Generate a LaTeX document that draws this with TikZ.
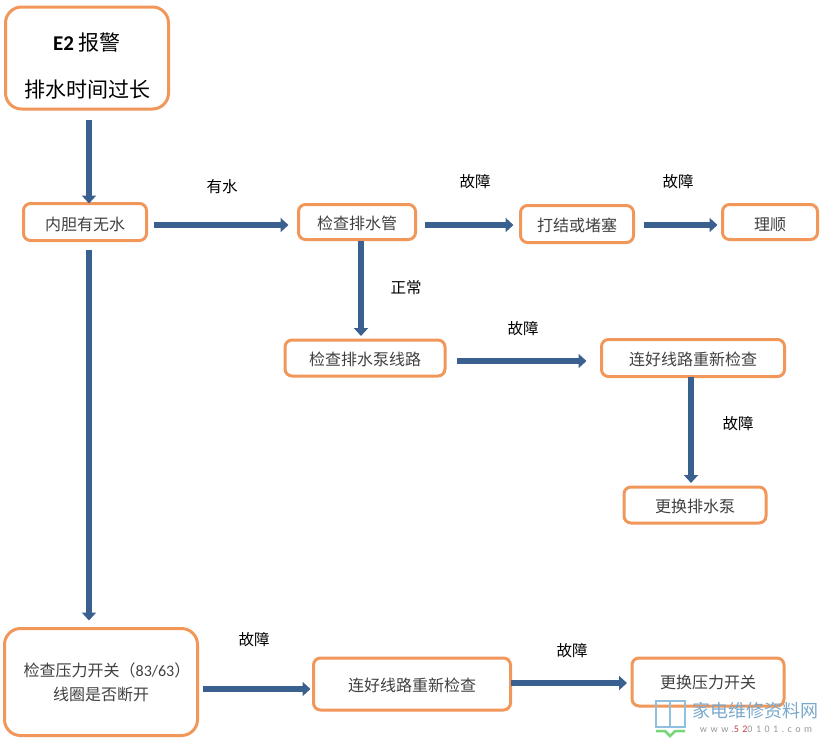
\documentclass[tikz,border=0pt]{standalone}
\usepackage{fontspec}
\setmainfont{Noto Sans CJK SC}
\newfontfamily\latinfont{Carlito}
\usepackage{tikz}
\usetikzlibrary{arrows.meta}
\definecolor{boxorange}{HTML}{F2975A}
\definecolor{flowblue}{HTML}{3A6090}
\definecolor{markblue}{HTML}{8FC0E0}
\tikzset{
  box/.style={draw=boxorange,line width=3pt,rounded corners=7pt,inner sep=0pt,outer sep=0pt,
    align=center,text=black!75,font=\fontsize{16}{24}\selectfont},
  bigbox/.style={box,rounded corners=16pt},
  flow/.style={draw=flowblue,line width=5.5pt,-{Triangle[length=8pt,width=14pt]}},
  tag/.style={inner sep=0pt,font=\fontsize{15.5}{18}\selectfont},
}
\begin{document}
\begin{tikzpicture}[x=1pt,y=-1pt]
\useasboundingbox (0,0) rectangle (826,740);
\node[bigbox,minimum width=163pt,minimum height=102pt,text=black,font=\fontsize{21}{47}\selectfont] (alarm) at (87,58) {\rule{0pt}{33pt}{\latinfont\bfseries E2} 报警\\排水时间过长};
\node[box,minimum width=123pt,minimum height=37pt] (inner) at (85,222) {\rule{0pt}{18pt}内胆有无水};
\node[box,minimum width=117pt,minimum height=35pt] (pipe) at (357,222) {\rule{0pt}{17pt}检查排水管};
\node[box,minimum width=113pt,minimum height=37pt] (knot) at (577,224) {\rule{0pt}{17pt}打结或堵塞};
\node[box,minimum width=95pt,minimum height=35pt] (fix) at (770,222) {\rule{0pt}{18pt}理顺};
\node[box,minimum width=160pt,minimum height=36pt] (pump) at (365,358) {\rule{0pt}{17pt}检查排水泵线路};
\node[box,minimum width=183pt,minimum height=37pt] (wire) at (693,358) {\rule{0pt}{17pt}连好线路重新检查};
\node[box,minimum width=142pt,minimum height=36pt] (newpump) at (695,505) {\rule{0pt}{17pt}更换排水泵};
\node[bigbox,minimum width=193pt,minimum height=107pt] (switch) at (101,682) {\hspace*{12pt}检查压力开关（{\latinfont 83/63}）\\线圈是否断开};
\node[box,minimum width=197pt,minimum height=52pt] (rewire) at (412,684) {\rule{0pt}{17pt}连好线路重新检查};
\node[box,minimum width=152pt,minimum height=48pt] (newswitch) at (708,682) {更换压力开关};

\draw[flow,shorten <=11pt,shorten >=0pt] ([xshift=2pt]alarm.south) -- ([xshift=4pt]inner.north);
\draw[flow,shorten <=7pt,shorten >=10pt] ([yshift=-3pt]inner.east) -- ([yshift=-3pt]pipe.west);
\draw[flow,shorten <=9pt,shorten >=7pt] ([yshift=-3pt]pipe.east) -- ([yshift=-1pt]knot.west);
\draw[flow,shorten <=10pt,shorten >=5pt] ([yshift=-1pt]knot.east) -- ([yshift=-3pt]fix.west);
\draw[flow,shorten <=1pt,shorten >=4pt] ([xshift=4pt]pipe.south) -- ([xshift=-4pt]pump.north);
\draw[flow,shorten <=12pt,shorten >=15pt] ([yshift=-3pt]pump.east) -- ([yshift=-3pt]wire.west);
\draw[flow,shorten <=0pt,shorten >=4pt] ([xshift=-2pt]wire.south) -- ([xshift=-4pt]newpump.north);
\draw[flow,shorten <=9pt,shorten >=8pt] ([xshift=4pt]inner.south) -- ([xshift=-12pt]switch.north);
\draw[flow,shorten <=5pt,shorten >=3pt] ([yshift=-7pt]switch.east) -- ([yshift=-5pt]rewire.west);
\draw[flow,shorten <=0pt,shorten >=5pt] ([yshift=1pt]rewire.east) -- ([yshift=-1pt]newswitch.west);

\node[tag] (t1) at (222,187) {有水};
\node[tag] (t2) at (475,182) {故障};
\node[tag] (t3) at (678,182) {故障};
\node[tag] (t4) at (406,288) {正常};
\node[tag] (t5) at (523,329) {故障};
\node[tag] (t6) at (738,424) {故障};
\node[tag] (t7) at (254,640) {故障};
\node[tag] (t8) at (572,651) {故障};

% site mark, lower right
\draw[markblue,line width=2pt] (656,701) rectangle (670,727) (670,701) rectangle (685,727);
\draw[green!55!gray!70,line width=2.5pt] (656,731) -- (665,731) -- (670,736) -- (675,731) -- (685,731);
\node[inner sep=0pt,text=markblue!75!flowblue,font=\fontsize{18}{20}\selectfont] (site) at (755,711) {家电维修资料网};
\node[inner sep=0pt,text=black!40,font=\fontsize{10}{10}\selectfont\latinfont\addfontfeature{LetterSpace=35}] (web) at (756,729) {www.\textcolor{red!55!gray}{52}0101.com};
\end{tikzpicture}
\end{document}
